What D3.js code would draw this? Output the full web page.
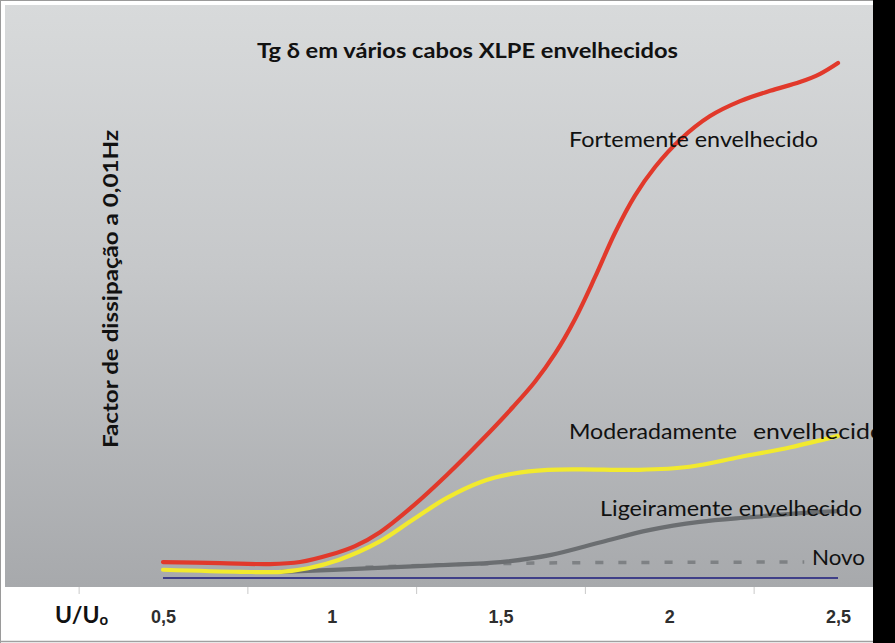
<!DOCTYPE html>
<html>
<head>
<meta charset="utf-8">
<script src="https://cdn.jsdelivr.net/npm/d3@7"></script>
<style>
  html, body { margin: 0; padding: 0; background: #ffffff; }
  svg { display: block; }
</style>
</head>
<body>
<script>
// ---------------- data ----------------
const chartTitle = "Tg δ em vários cabos XLPE envelhecidos";
const yAxisTitle = "Factor de dissipação a 0,01Hz";
const xTickValues = [0.5, 1, 1.5, 2, 2.5];
const xTickLabels = ["0,5", "1", "1,5", "2", "2,5"];
const xMinorTicks = [0.25, 0.75, 1.25, 1.75, 2.25];

// Fortemente envelhecido (red)
const strongU = [0.5, 0.669, 0.817, 0.906, 0.995, 1.069, 1.143, 1.241, 1.341, 1.439, 1.537, 1.602, 1.661, 1.721, 1.780, 1.839, 1.898, 1.958, 2.032, 2.121, 2.210, 2.299, 2.387, 2.447, 2.5];
const strongV = [3.1, 2.9, 2.7, 3.1, 4.5, 6.2, 8.9, 14.0, 20.0, 26.4, 33.2, 38.1, 43.5, 50.3, 58.4, 67.0, 74.2, 79.8, 85.1, 89.7, 92.6, 94.6, 96.3, 97.9, 100];

// Moderadamente envelhecido (yellow)
const moderateU = [0.5, 0.73, 0.85, 0.93, 1.02, 1.14, 1.24, 1.34, 1.44, 1.54, 1.64, 1.74, 1.91, 2.06, 2.21, 2.36, 2.5];
const moderateV = [1.6, 1.2, 1.2, 1.9, 3.5, 7.0, 11.3, 15.5, 18.6, 20.3, 21.0, 21.1, 21.0, 21.6, 23.5, 25.4, 27.6];

// Ligeiramente envelhecido (grey)
const slightU = [0.85, 1.12, 1.32, 1.5, 1.65, 1.8, 1.94, 2.09, 2.24, 2.39, 2.5];
const slightV = [1.2, 1.9, 2.5, 3.1, 4.5, 7.0, 9.3, 10.9, 11.8, 12.6, 13.0];

// Novo (dashed grey)
const newU = [1.1, 1.3, 1.6, 2.4];
const newV = [2.1, 2.5, 2.9, 3.1];

// Reference baseline (blue)
const baseU = [0.5, 2.5];
const baseV = [0, 0];

// ---------------- drawing ----------------
const W = 895, H = 643;
const svg = d3.select("body").append("svg").attr("width", W).attr("height", H);

const defs = svg.append("defs");
const grad = defs.append("linearGradient").attr("id", "bg").attr("x1", 0).attr("y1", 0).attr("x2", 0).attr("y2", 1);
grad.append("stop").attr("offset", "0%").attr("stop-color", "#d8dadb");
grad.append("stop").attr("offset", "45%").attr("stop-color", "#c6c8ca");
grad.append("stop").attr("offset", "100%").attr("stop-color", "#a7a9ac");

// outer frame
svg.append("rect").attr("x", 0).attr("y", 0).attr("width", W).attr("height", H).attr("fill", "#ffffff");
svg.append("line").attr("x1", 0).attr("x2", W).attr("y1", 0.5).attr("y2", 0.5).attr("stroke", "#9a9a9a");
svg.append("line").attr("x1", 0.5).attr("x2", 0.5).attr("y1", 0).attr("y2", H).attr("stroke", "#9a9a9a");
svg.append("line").attr("x1", 0).attr("x2", W).attr("y1", H - 1.5).attr("y2", H - 1.5).attr("stroke", "#a0a0a0").attr("stroke-width", 1.5);

// gradient panel
svg.append("rect").attr("x", 5).attr("y", 5).attr("width", 868).attr("height", 582).attr("fill", "url(#bg)");

// scales
const x = d3.scaleLinear().domain([0.5, 2.5]).range([163, 838]);
const y = d3.scaleLinear().domain([0, 100]).range([578, 63]);

// minor ticks
const minorAxis = d3.axisBottom(x).tickValues(xMinorTicks).tickSize(7).tickFormat("");
const gMinor = svg.append("g").attr("transform", "translate(0,587)").call(minorAxis);
gMinor.select(".domain").remove();
gMinor.selectAll(".tick line").attr("stroke", "#c9c9c9").attr("stroke-width", 1);

// tick labels
const xAxis = d3.axisBottom(x).tickValues(xTickValues).tickSize(0).tickPadding(22)
  .tickFormat((d, i) => xTickLabels[i]);
const gx = svg.append("g").attr("transform", "translate(0,588)").call(xAxis);
gx.select(".domain").remove();
gx.selectAll(".tick text")
  .attr("font-family", "'Liberation Sans Narrow', 'Liberation Sans', Arial, sans-serif")
  .attr("font-weight", "bold")
  .attr("font-size", 18)
  .attr("fill", "#2e2e2e");

// U/Uo label
const uLabel = svg.append("text").attr("x", 55).attr("y", 623)
  .attr("font-family", "Lato, 'Open Sans', sans-serif").attr("font-weight", "bold")
  .attr("font-size", 23).attr("fill", "#111");
uLabel.append("tspan").text("U/U");
uLabel.append("tspan").attr("font-size", 15).attr("dy", 2).text("o");

// lines
const line = d3.line().x(d => x(d[0])).y(d => y(d[1])).curve(d3.curveCatmullRom.alpha(0.5));
const zipSeries = (u, v) => u.map((d, i) => [d, v[i]]);

svg.append("path").datum(zipSeries(baseU, baseV)).attr("d", line)
  .attr("fill", "none").attr("stroke", "#3f3f88").attr("stroke-width", 2.2);

svg.append("path").datum(zipSeries(newU, newV)).attr("d", line)
  .attr("fill", "none").attr("stroke", "#7e8184").attr("stroke-width", 3.5)
  .attr("stroke-dasharray", "8,15");

svg.append("path").datum(zipSeries(slightU, slightV)).attr("d", line)
  .attr("fill", "none").attr("stroke", "#6b6e71").attr("stroke-width", 4.2).attr("stroke-linecap", "round");

svg.append("path").datum(zipSeries(moderateU, moderateV)).attr("d", line)
  .attr("fill", "none").attr("stroke", "#f2ea2e").attr("stroke-width", 4.2).attr("stroke-linecap", "round");

svg.append("path").datum(zipSeries(strongU, strongV)).attr("d", line)
  .attr("fill", "none").attr("stroke", "#e1392b").attr("stroke-width", 4.2).attr("stroke-linecap", "round");

// series labels
const labelFont = "Lato, 'Open Sans', 'Noto Sans', sans-serif";
const seriesLabels = [
  { text: "Fortemente envelhecido", x: 569, y: 147, len: 249 },
  { text: "Moderadamente", x: 569, y: 439, len: 168 },
  { text: "envelhecido", x: 753, y: 439, len: 131 },
  { text: "Ligeiramente envelhecido", x: 600, y: 516, len: 262 },
  { text: "Novo", x: 812, y: 565, len: 53 }
];
svg.selectAll("text.series").data(seriesLabels).enter().append("text")
  .attr("class", "series")
  .attr("x", d => d.x).attr("y", d => d.y)
  .attr("textLength", d => d.len).attr("lengthAdjust", "spacingAndGlyphs")
  .attr("font-family", labelFont).attr("font-size", 21).attr("fill", "#111")
  .text(d => d.text);

// title
svg.append("text").attr("x", 257).attr("y", 58)
  .attr("textLength", 421).attr("lengthAdjust", "spacingAndGlyphs")
  .attr("font-family", labelFont).attr("font-weight", "bold")
  .attr("font-size", 21).attr("fill", "#111").text(chartTitle);

// y axis title
svg.append("text").attr("transform", "translate(118,289) rotate(-90)")
  .attr("text-anchor", "middle")
  .attr("textLength", 318).attr("lengthAdjust", "spacingAndGlyphs")
  .attr("font-family", labelFont).attr("font-weight", "bold")
  .attr("font-size", 20).attr("fill", "#111").text(yAxisTitle);

// right black bar
svg.append("rect").attr("x", 873).attr("y", 0).attr("width", W - 873).attr("height", H).attr("fill", "#000");
</script>
</body>
</html>
